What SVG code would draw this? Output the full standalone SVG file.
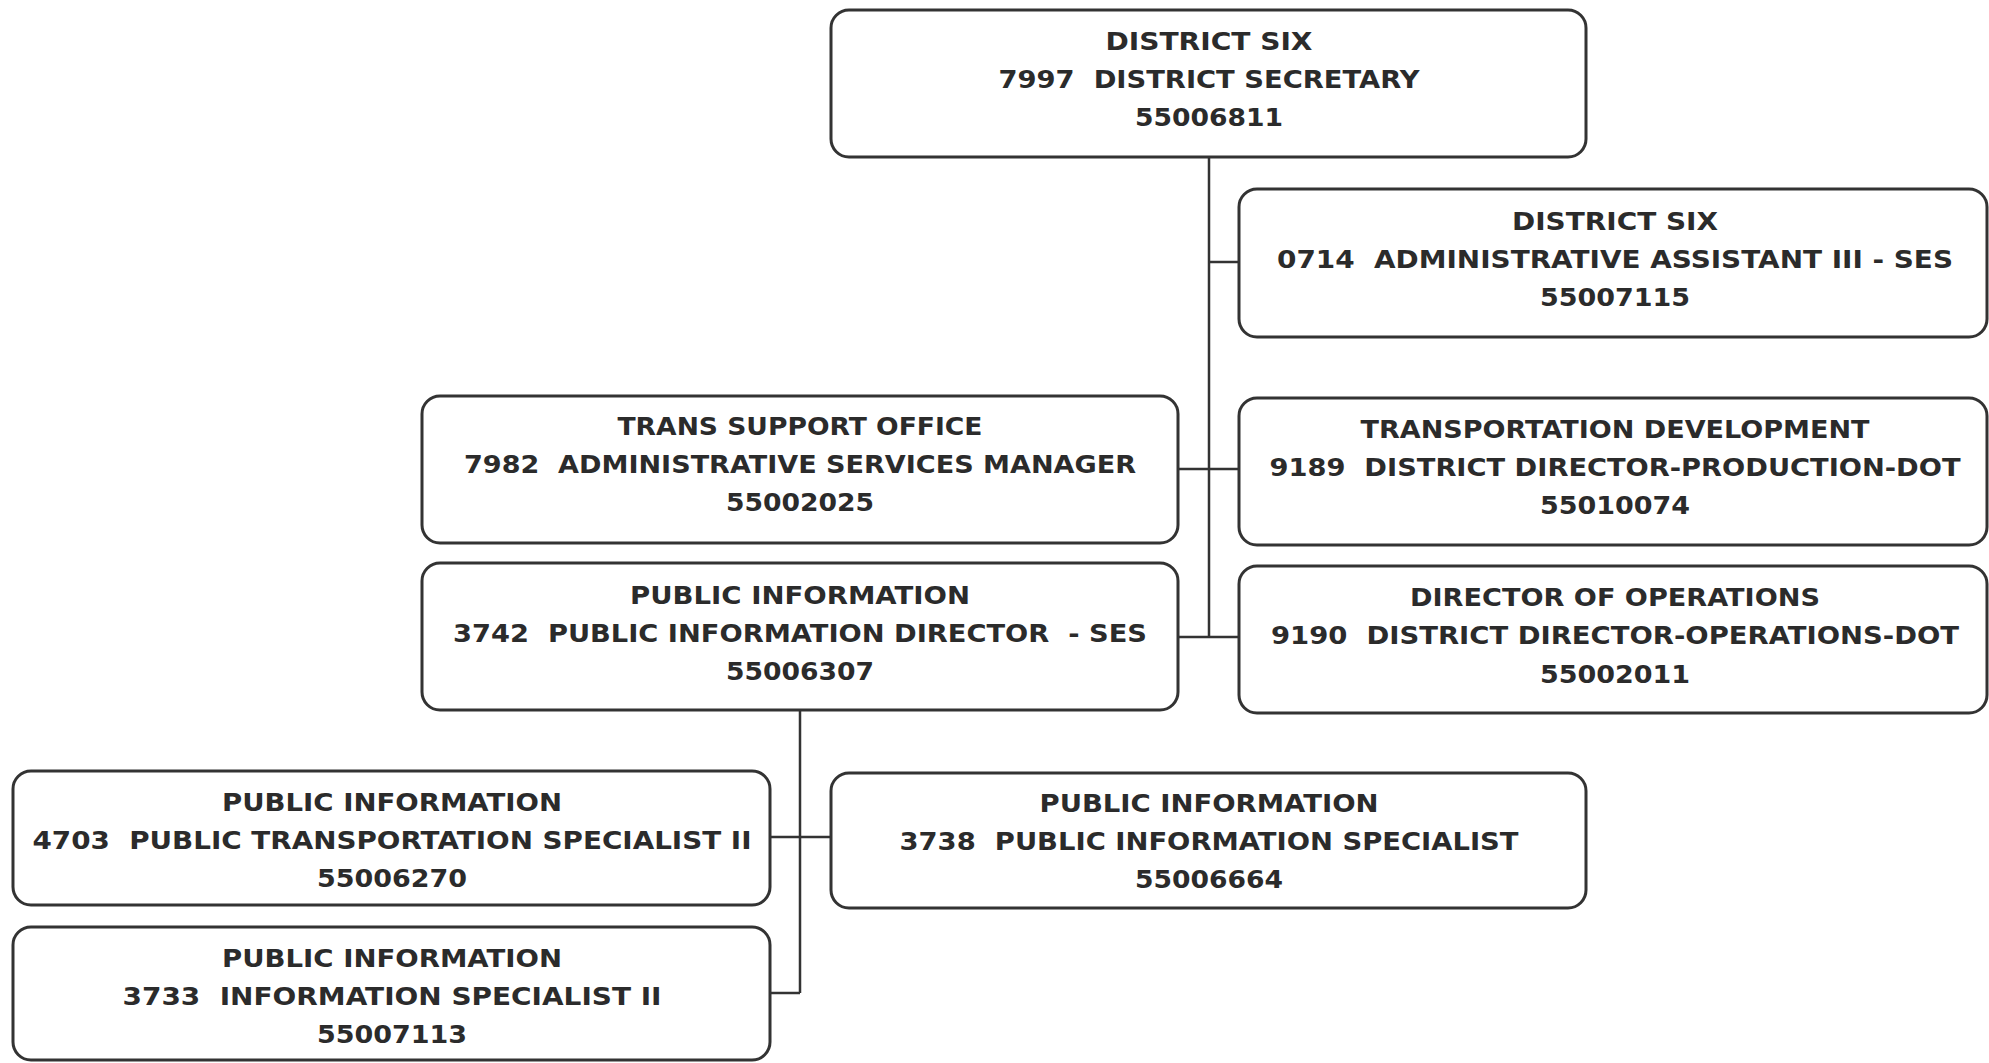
<svg xmlns="http://www.w3.org/2000/svg" width="1989" height="1063" viewBox="0 0 1989 1063">
  <style>
    .box { fill: #ffffff; stroke: #333333; stroke-width: 3; }
    .lbl { font-family: "DejaVu Sans", Verdana, sans-serif; font-weight: bold; font-size: 25px; fill: #2b2b2b; text-anchor: middle; }
    .conn { stroke: #333333; stroke-width: 2.5; fill: none; }
  </style>
  <rect width="1989" height="1063" fill="#ffffff"/>

  <!-- reporting lines -->
  <g id="connectors">
    <path class="conn" d="M1209 157 V637"/>
    <path class="conn" d="M1209 262 H1239"/>
    <path class="conn" d="M1178 469 H1239"/>
    <path class="conn" d="M1178 637 H1239"/>
    <path class="conn" d="M800 710 V993"/>
    <path class="conn" d="M770 837 H831"/>
    <path class="conn" d="M770 993 H800"/>
  </g>

  <g id="district-secretary">
    <rect class="box" x="831" y="10" width="755" height="147" rx="18"/>
    <text class="lbl" x="1209" y="50" textLength="207" lengthAdjust="spacingAndGlyphs">DISTRICT SIX</text>
    <text class="lbl" x="1209" y="88" textLength="421" lengthAdjust="spacingAndGlyphs" xml:space="preserve">7997  DISTRICT SECRETARY</text>
    <text class="lbl" x="1209" y="126" textLength="148" lengthAdjust="spacingAndGlyphs">55006811</text>
  </g>

  <g id="admin-assistant">
    <rect class="box" x="1239" y="189" width="748" height="148" rx="18"/>
    <text class="lbl" x="1615" y="230" textLength="206" lengthAdjust="spacingAndGlyphs">DISTRICT SIX</text>
    <text class="lbl" x="1615" y="268" textLength="676" lengthAdjust="spacingAndGlyphs" xml:space="preserve">0714  ADMINISTRATIVE ASSISTANT III - SES</text>
    <text class="lbl" x="1615" y="306" textLength="150" lengthAdjust="spacingAndGlyphs">55007115</text>
  </g>

  <g id="trans-support-office">
    <rect class="box" x="422" y="396" width="756" height="147" rx="18"/>
    <text class="lbl" x="800" y="435" textLength="365" lengthAdjust="spacingAndGlyphs">TRANS SUPPORT OFFICE</text>
    <text class="lbl" x="800" y="473" textLength="672" lengthAdjust="spacingAndGlyphs" xml:space="preserve">7982  ADMINISTRATIVE SERVICES MANAGER</text>
    <text class="lbl" x="800" y="511" textLength="148" lengthAdjust="spacingAndGlyphs">55002025</text>
  </g>

  <g id="transportation-development">
    <rect class="box" x="1239" y="398" width="748" height="147" rx="18"/>
    <text class="lbl" x="1615" y="438" textLength="509" lengthAdjust="spacingAndGlyphs">TRANSPORTATION DEVELOPMENT</text>
    <text class="lbl" x="1615" y="476" textLength="691" lengthAdjust="spacingAndGlyphs" xml:space="preserve">9189  DISTRICT DIRECTOR-PRODUCTION-DOT</text>
    <text class="lbl" x="1615" y="514" textLength="150" lengthAdjust="spacingAndGlyphs">55010074</text>
  </g>

  <g id="public-information-director">
    <rect class="box" x="422" y="563" width="756" height="147" rx="18"/>
    <text class="lbl" x="800" y="604" textLength="340" lengthAdjust="spacingAndGlyphs">PUBLIC INFORMATION</text>
    <text class="lbl" x="800" y="642" textLength="694" lengthAdjust="spacingAndGlyphs" xml:space="preserve">3742  PUBLIC INFORMATION DIRECTOR  - SES</text>
    <text class="lbl" x="800" y="680" textLength="148" lengthAdjust="spacingAndGlyphs">55006307</text>
  </g>

  <g id="director-of-operations">
    <rect class="box" x="1239" y="566" width="748" height="147" rx="18"/>
    <text class="lbl" x="1615" y="606" textLength="410" lengthAdjust="spacingAndGlyphs">DIRECTOR OF OPERATIONS</text>
    <text class="lbl" x="1615" y="644" textLength="688" lengthAdjust="spacingAndGlyphs" xml:space="preserve">9190  DISTRICT DIRECTOR-OPERATIONS-DOT</text>
    <text class="lbl" x="1615" y="683" textLength="150" lengthAdjust="spacingAndGlyphs">55002011</text>
  </g>

  <g id="public-transportation-specialist">
    <rect class="box" x="13" y="771" width="757" height="134" rx="18"/>
    <text class="lbl" x="392" y="811" textLength="340" lengthAdjust="spacingAndGlyphs">PUBLIC INFORMATION</text>
    <text class="lbl" x="392" y="849" textLength="719" lengthAdjust="spacingAndGlyphs" xml:space="preserve">4703  PUBLIC TRANSPORTATION SPECIALIST II</text>
    <text class="lbl" x="392" y="887" textLength="150" lengthAdjust="spacingAndGlyphs">55006270</text>
  </g>

  <g id="public-information-specialist">
    <rect class="box" x="831" y="773" width="755" height="135" rx="18"/>
    <text class="lbl" x="1209" y="812" textLength="339" lengthAdjust="spacingAndGlyphs">PUBLIC INFORMATION</text>
    <text class="lbl" x="1209" y="850" textLength="619" lengthAdjust="spacingAndGlyphs" xml:space="preserve">3738  PUBLIC INFORMATION SPECIALIST</text>
    <text class="lbl" x="1209" y="888" textLength="148" lengthAdjust="spacingAndGlyphs">55006664</text>
  </g>

  <g id="information-specialist">
    <rect class="box" x="13" y="927" width="757" height="133" rx="18"/>
    <text class="lbl" x="392" y="967" textLength="340" lengthAdjust="spacingAndGlyphs">PUBLIC INFORMATION</text>
    <text class="lbl" x="392" y="1005" textLength="539" lengthAdjust="spacingAndGlyphs" xml:space="preserve">3733  INFORMATION SPECIALIST II</text>
    <text class="lbl" x="392" y="1043" textLength="150" lengthAdjust="spacingAndGlyphs">55007113</text>
  </g>
</svg>
